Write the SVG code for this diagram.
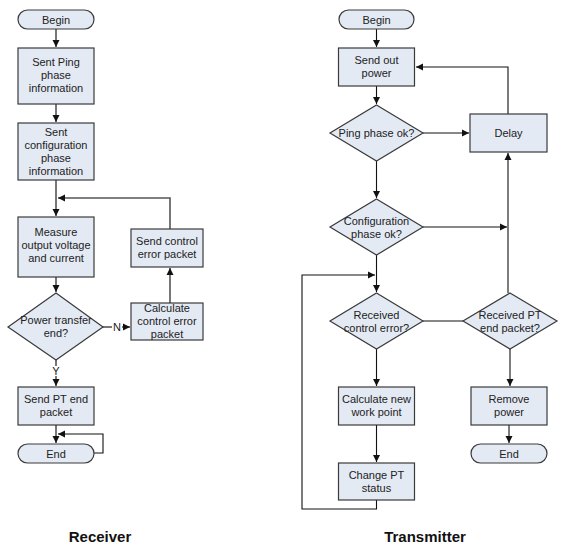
<svg xmlns="http://www.w3.org/2000/svg" width="565" height="557" viewBox="0 0 565 557">
<defs>
<style>
.n{fill:#e4eaf4;stroke:#3a3a3a;stroke-width:1.2}
.t{font-family:"Liberation Sans",Arial,sans-serif;font-size:11px;fill:#222;text-anchor:middle}
.c{fill:none;stroke:#111;stroke-width:1.1}
.cr{fill:none;stroke:#555;stroke-width:1.6}
.h{font-family:"Liberation Sans",Arial,sans-serif;font-size:15px;font-weight:bold;fill:#111;text-anchor:middle}
</style>
<marker id="a" markerWidth="8" markerHeight="8" refX="7" refY="4" orient="auto" markerUnits="userSpaceOnUse">
<path d="M0,0.5 L7,4 L0,7.5 z" fill="#111"/>
</marker>
</defs>
<rect width="565" height="557" fill="#fff"/>
<g id="connectors">
<!-- Receiver -->
<path class="cr" d="M56,29 V47" marker-end="url(#a)"/>
<path class="cr" d="M56,104 V122" marker-end="url(#a)"/>
<path class="cr" d="M56,180 V216" marker-end="url(#a)"/>
<path class="cr" d="M170,229 V198 H58" marker-end="url(#a)"/>
<path class="cr" d="M56,277 V292" marker-end="url(#a)"/>
<path class="cr" d="M103,327 H112"/>
<path class="cr" d="M122,327 H130" marker-end="url(#a)"/>
<path class="cr" d="M170,303 V268" marker-end="url(#a)"/>
<path class="cr" d="M56,360 V366"/>
<path class="cr" d="M56,376 V386" marker-end="url(#a)"/>
<path class="cr" d="M56,425 V443" marker-end="url(#a)"/>
<path class="c" d="M94,453 H103 V434 H58" marker-end="url(#a)"/>
<!-- Transmitter -->
<path class="c" d="M376.5,29 V47" marker-end="url(#a)"/>
<path class="c" d="M376.5,86 V104" marker-end="url(#a)"/>
<path class="c" d="M423,133 H469" marker-end="url(#a)"/>
<path class="c" d="M508,114 V67 H416" marker-end="url(#a)"/>
<path class="c" d="M376.5,161 V198" marker-end="url(#a)"/>
<path class="c" d="M423,227 H507" marker-end="url(#a)"/>
<path class="c" d="M508,293 V153" marker-end="url(#a)"/>
<path class="c" d="M376.5,255 V292" marker-end="url(#a)"/>
<path class="c" d="M376.5,500 V509 H302 V275 H375" marker-end="url(#a)"/>
<path class="c" d="M423,321 H463"/>
<path class="c" d="M376.5,349 V386" marker-end="url(#a)"/>
<path class="c" d="M376.5,425 V462" marker-end="url(#a)"/>
<path class="c" d="M510,349 V386" marker-end="url(#a)"/>
<path class="c" d="M509,425 V443" marker-end="url(#a)"/>
</g>
<text class="t" x="117" y="331">N</text>
<text class="t" x="56" y="375">Y</text>
<g id="r-begin"><rect class="n" x="18" y="10" width="76" height="19" rx="9.5"/><text class="t" x="56" y="23.5">Begin</text></g>
<g id="r-ping"><rect class="n" x="18" y="48" width="76" height="56"/><text class="t" x="56" y="66">Sent Ping</text><text class="t" x="56" y="79">phase</text><text class="t" x="56" y="92">information</text></g>
<g id="r-config"><rect class="n" x="18" y="123" width="76" height="57"/><text class="t" x="56" y="136">Sent</text><text class="t" x="56" y="149">configuration</text><text class="t" x="56" y="162">phase</text><text class="t" x="56" y="175">information</text></g>
<g id="r-measure"><rect class="n" x="18" y="217" width="76" height="60"/><text class="t" x="56" y="236">Measure</text><text class="t" x="56" y="249">output voltage</text><text class="t" x="56" y="262">and current</text></g>
<g id="r-decision"><polygon class="n" points="56,293 103,327 56,360 8,327"/><text class="t" x="56" y="324">Power transfer</text><text class="t" x="56" y="337">end?</text></g>
<g id="r-calc"><rect class="n" x="131" y="303" width="72" height="37"/><text class="t" x="167" y="312">Calculate</text><text class="t" x="167" y="325">control error</text><text class="t" x="167" y="338">packet</text></g>
<g id="r-send"><rect class="n" x="131" y="229" width="72" height="38"/><text class="t" x="167" y="245">Send control</text><text class="t" x="167" y="258">error packet</text></g>
<g id="r-ptend"><rect class="n" x="18" y="387" width="76" height="38"/><text class="t" x="56" y="403">Send PT end</text><text class="t" x="56" y="416">packet</text></g>
<g id="r-end"><rect class="n" x="18" y="444" width="76" height="19" rx="9.5"/><text class="t" x="56" y="457.5">End</text></g>
<g id="t-begin"><rect class="n" x="339" y="10" width="75" height="19" rx="9.5"/><text class="t" x="376.5" y="23.5">Begin</text></g>
<g id="t-sendout"><rect class="n" x="338.5" y="48" width="76" height="38"/><text class="t" x="376.5" y="64">Send out</text><text class="t" x="376.5" y="77">power</text></g>
<g id="t-ping"><polygon class="n" points="376.5,105 423,133 376.5,161 330,133"/><text class="t" x="376.5" y="137">Ping phase ok?</text></g>
<g id="t-delay"><rect class="n" x="470" y="114" width="77" height="38"/><text class="t" x="508.5" y="137">Delay</text></g>
<g id="t-config"><polygon class="n" points="376.5,199 423,227 376.5,255 330,227"/><text class="t" x="376.5" y="225">Configuration</text><text class="t" x="376.5" y="238">phase ok?</text></g>
<g id="t-rce"><polygon class="n" points="376.5,293 423,321 376.5,349 330,321"/><text class="t" x="376.5" y="319">Received</text><text class="t" x="376.5" y="332">control error?</text></g>
<g id="t-rpt"><polygon class="n" points="510,293 557,321 510,349 463,321"/><text class="t" x="510" y="319">Received PT</text><text class="t" x="510" y="332">end packet?</text></g>
<g id="t-calc"><rect class="n" x="338.5" y="387" width="76" height="38"/><text class="t" x="376.5" y="403">Calculate new</text><text class="t" x="376.5" y="416">work point</text></g>
<g id="t-change"><rect class="n" x="338.5" y="463" width="76" height="37"/><text class="t" x="376.5" y="479">Change PT</text><text class="t" x="376.5" y="492">status</text></g>
<g id="t-remove"><rect class="n" x="471" y="387" width="76" height="38"/><text class="t" x="509" y="403">Remove</text><text class="t" x="509" y="416">power</text></g>
<g id="t-end"><rect class="n" x="471" y="444" width="76" height="19" rx="9.5"/><text class="t" x="509" y="457.5">End</text></g>
<text class="h" x="100" y="542">Receiver</text>
<text class="h" x="425" y="542">Transmitter</text>
</svg>
